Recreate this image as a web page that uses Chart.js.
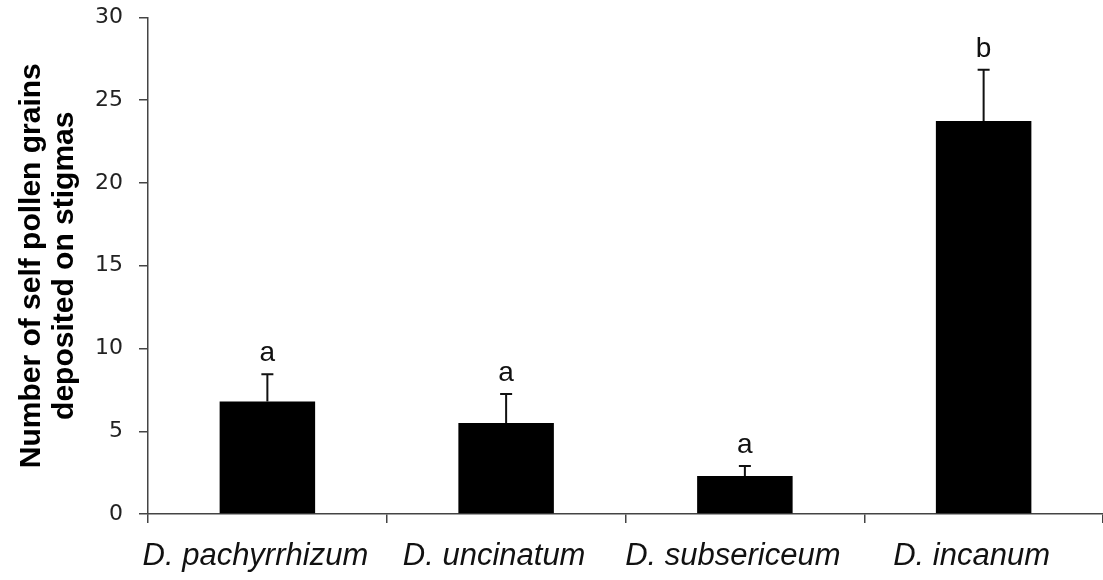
<!DOCTYPE html>
<html lang="en">
<head>
    <meta charset="UTF-8">
    <title>Self pollen grains on stigmas</title>
    <script src="https://cdn.jsdelivr.net/npm/chart.js"></script>
    <style>
        html, body { margin: 0; padding: 0; background: #fff; }
        #wrap { width: 1103px; height: 580px; }
    </style>
</head>
<body>
    <div id="wrap"><canvas id="pollenChart"></canvas></div>

    <script>
        const species = ['D. pachyrrhizum', 'D. uncinatum', 'D. subsericeum', 'D. incanum'];
        const meanGrains = [6.8, 5.5, 2.3, 23.75];
        const errUpper = [1.65, 1.75, 0.6, 3.1];
        const groupLetters = ['a', 'a', 'a', 'b'];
        const yTicks = [0, 5, 10, 15, 20, 25, 30];

        const axisColor = '#444';

        // upward-only error bars plus the significance letters
        const errorBars = {
            id: 'errorBars',
            afterDatasetsDraw(chart) {
                const ctx = chart.ctx;
                const y = chart.scales.y;
                const meta = chart.getDatasetMeta(0);
                ctx.save();
                meta.data.forEach((bar, i) => {
                    const yTop = y.getPixelForValue(meanGrains[i] + errUpper[i]);
                    const yBar = y.getPixelForValue(meanGrains[i]);
                    ctx.strokeStyle = '#111';
                    ctx.lineWidth = 2;
                    ctx.beginPath();
                    ctx.moveTo(bar.x, yBar);
                    ctx.lineTo(bar.x, yTop);
                    ctx.moveTo(bar.x - 6, yTop);
                    ctx.lineTo(bar.x + 6, yTop);
                    ctx.stroke();

                    ctx.fillStyle = '#111';
                    ctx.font = '28px "Liberation Sans", Arial, sans-serif';
                    ctx.textAlign = 'center';
                    ctx.textBaseline = 'alphabetic';
                    ctx.fillText(groupLetters[i], bar.x, yTop - 13);
                });
                ctx.restore();
            }
        };

        const ctx = document.getElementById('pollenChart').getContext('2d');
        new Chart(ctx, {
            type: 'bar',
            data: {
                labels: species,
                datasets: [{
                    data: meanGrains,
                    backgroundColor: '#000',
                    borderWidth: 0,
                    categoryPercentage: 1.0,
                    barPercentage: 0.4
                }]
            },
            options: {
                responsive: true,
                maintainAspectRatio: false,
                animation: false,
                layout: { padding: { top: 17.5, right: 0, left: 0, bottom: 0 } },
                plugins: {
                    legend: { display: false },
                    tooltip: { enabled: false }
                },
                scales: {
                    x: {
                        offset: true,
                        afterFit(scale) { scale.height = 66; },
                        border: { color: axisColor, width: 1.5 },
                        grid: {
                            offset: true,
                            drawOnChartArea: false,
                            drawTicks: true,
                            tickLength: 9,
                            color: axisColor,
                            lineWidth: 1.5
                        },
                        ticks: {
                            color: '#111',
                            padding: 15,
                            labelOffset: -12,
                            maxRotation: 0,
                            font: { family: '"Liberation Sans", Arial, sans-serif', size: 31, style: 'italic' }
                        }
                    },
                    y: {
                        min: 0,
                        max: 30,
                        afterFit(scale) {
                            scale.width = 148;
                            // labels fit inside the top padding already
                            scale.paddingTop = 0;
                            scale.paddingBottom = 0;
                        },
                        afterBuildTicks(scale) { scale.ticks = yTicks.map(v => ({ value: v })); },
                        border: { color: axisColor, width: 1.5 },
                        grid: {
                            drawOnChartArea: false,
                            tickLength: 9,
                            color: axisColor,
                            lineWidth: 1.5
                        },
                        ticks: {
                            color: '#222',
                            padding: 16,
                            font: { family: '"DejaVu Sans", sans-serif', size: 22 }
                        },
                        title: {
                            display: true,
                            text: ['Number of self pollen grains', 'deposited on stigmas'],
                            color: '#000',
                            padding: { top: 15, bottom: 0 },
                            font: { family: '"Liberation Sans", Arial, sans-serif', size: 30, weight: 'bold', lineHeight: 1.1 }
                        }
                    }
                }
            },
            plugins: [errorBars]
        });
    </script>
</body>
</html>
